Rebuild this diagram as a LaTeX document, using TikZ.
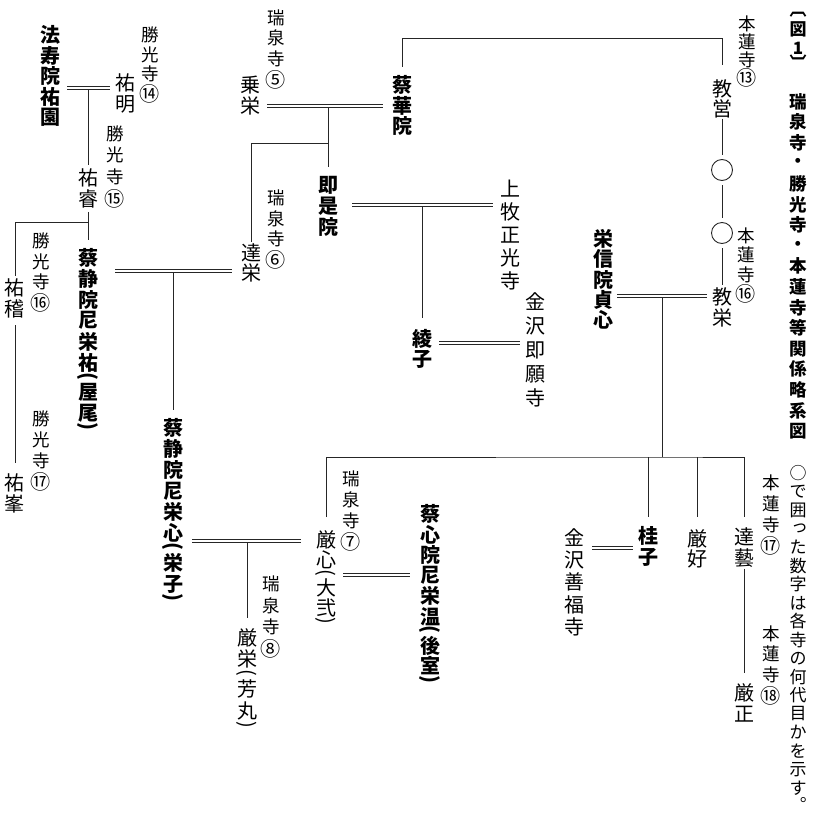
\documentclass[tikz,border=0pt]{standalone}
\usepackage{fontspec}
\setmainfont{Noto Sans CJK JP}
\usepackage{graphicx}
\usetikzlibrary{calc}

% Vertical text: \vt{pitch}{characters} stacks glyphs top to bottom.
\makeatletter
\newcommand\vt[2]{\vbox{\offinterlineskip\@tfor\vt@c:=#2\do{\vt@cell{#1}}}}
\newcommand\vt@box[2]{\vbox to #1{\vss\hbox to 1em{\hss#2\hss}\vss}}
\newcommand\vt@corner[3]{\vbox to #1{\kern#3\hbox to 1em{\kern#2\vt@c\hss}\vss}}
\def\vt@po{（}\def\vt@pc{）}\def\vt@bo{︹}\def\vt@bc{︺}\def\vt@stop{。}\def\vt@tsu{っ}
\newcommand\vt@cell[1]{%
  \ifx\vt@c\vt@po \vt@box{.4\dimexpr#1\relax}{\rotatebox[origin=c]{-90}{(}}\else
  \ifx\vt@c\vt@pc \vt@box{.4\dimexpr#1\relax}{\rotatebox[origin=c]{-90}{)}}\else
  \ifx\vt@c\vt@bo \vt@box{.5\dimexpr#1\relax}{\vt@c}\else
  \ifx\vt@c\vt@bc \vt@box{.5\dimexpr#1\relax}{\vt@c}\else
  \ifx\vt@c\vt@stop
    \vbox to .5\dimexpr#1\relax{\hbox to 1em{\hss\rotatebox[origin=c]{180}{。}\hss}\vss}\else
  \ifx\vt@c\vt@tsu \vt@corner{#1}{.1em}{.22em}\else
  \vt@box{#1}{\vt@c}\fi\fi\fi\fi\fi\fi}
\makeatother
% circled generation numbers, set a little larger
\newcommand\cn[1]{\scalebox{1.15}{#1}}

\begin{document}
\begin{tikzpicture}[x=1pt,y=-1pt,
  vtx/.style={inner sep=0pt, outer sep=0pt, anchor=north, text=black},
  nm/.style={vtx, font=\fontsize{20}{20}\selectfont},
  bn/.style={vtx, font=\fontsize{20}{20}\selectfont\bfseries},
  lb/.style={vtx, font=\fontsize{17.5}{18}\selectfont},
  ln/.style={draw=black!85, line width=0.9pt},
  dl/.style={draw=black!85, double=white, double distance=2.5pt, line width=0.8pt},
  ring/.style={circle, draw=black!85, line width=0.9pt, minimum size=21pt, inner sep=0pt}]
\useasboundingbox (0,0) rectangle (812,814);

% ---- title column
\node[vtx, font=\fontsize{17}{17}\selectfont\bfseries] (fig) at (798,9.7) {\vt{19.2pt}{︹図1︺}};
\node[vtx, font=\fontsize{17.5}{18}\selectfont\bfseries] (title) at (798,91.2) {\vt{20.6pt}{瑞泉寺・勝光寺・本蓮寺等関係略系図}};
\node[vtx, font=\fontsize{17}{17}\selectfont] (note) at (798,464.2) {\vt{18.5pt}{○で囲った数字は各寺の何代目かを示す。}};

% ---- Honrenji line
\node[lb] (hon13) at (747,14.4) {\vt{18.2pt}{本蓮寺{\cn⑬}}};
\node[nm] (kyoei) at (722,78.5) {\vt{20pt}{教営}};
\node[ring] (c1) at (722,170) {};
\node[ring] (c2) at (722,233) {};
\node[lb] (hon16) at (746,226.4) {\vt{19.2pt}{本蓮寺{\cn⑯}}};
\node[nm] (kyoei2) at (722,287) {\vt{20.5pt}{教栄}};
\node[bn] (eishin) at (603,229) {\vt{20.25pt}{栄信院貞心}};
\node[lb] (hon17) at (771,472) {\vt{21pt}{本蓮寺{\cn⑰}}};
\node[nm] (tatsugei) at (744,526.5) {\vt{21pt}{達藝}};
\node[lb] (hon18) at (771,623) {\vt{20.8pt}{本蓮寺{\cn⑱}}};
\node[nm] (gensho) at (744,682) {\vt{21.5pt}{厳正}};
\node[nm] (genkou) at (697,529) {\vt{20pt}{厳好}};
\node[bn] (keiko) at (648,525) {\vt{21.5pt}{桂子}};
\node[nm] (zenpuku) at (574,526) {\vt{22.5pt}{金沢善福寺}};

% ---- Zuisenji line
\node[lb] (zui5) at (276,7) {\vt{20.8pt}{瑞泉寺{\cn⑤}}};
\node[nm] (joei) at (250,74.5) {\vt{21pt}{乗栄}};
\node[bn] (saikain) at (402,74.75) {\vt{20.5pt}{蔡華院}};
\node[bn] (sokuzein) at (328,174.5) {\vt{21pt}{即是院}};
\node[lb] (zui6) at (276,188) {\vt{20.5pt}{瑞泉寺{\cn⑥}}};
\node[nm] (tatsuei) at (251,243.5) {\vt{19.5pt}{達栄}};
\node[nm] (kamimaki) at (510,177.5) {\vt{23pt}{上牧正光寺}};
\node[bn] (ayako) at (422,329) {\vt{20pt}{綾子}};
\node[nm] (sokugan) at (535,290) {\vt{24pt}{金沢即願寺}};
\node[lb] (zui7) at (351,468) {\vt{21pt}{瑞泉寺{\cn⑦}}};
\node[nm] (genshin) at (326,530) {\vt{20pt}{厳心（大弐）}};
\node[bn] (saishin) at (430,504) {\vt{20.5pt}{蔡心院尼栄温（後室）}};
\node[lb] (zui8) at (271,573) {\vt{21.7pt}{瑞泉寺{\cn⑧}}};
\node[nm] (genei) at (247,627) {\vt{21.5pt}{厳栄（芳丸）}};

% ---- Shokoji line
\node[bn] (houjuin) at (50,24.75) {\vt{20.5pt}{法寿院祐園}};
\node[lb] (sho14) at (150,25) {\vt{19.7pt}{勝光寺{\cn⑭}}};
\node[nm] (yumei) at (125,72.5) {\vt{21pt}{祐明}};
\node[lb] (sho15) at (115,122.6) {\vt{21.7pt}{勝光寺{\cn⑮}}};
\node[nm] (yuei) at (88,166.75) {\vt{21.5pt}{祐睿}};
\node[lb] (sho16) at (41,231) {\vt{20.5pt}{勝光寺{\cn⑯}}};
\node[nm] (yukei) at (15,277) {\vt{21.5pt}{祐稽}};
\node[lb] (sho17) at (41,408.6) {\vt{20.8pt}{勝光寺{\cn⑰}}};
\node[nm] (yuhou) at (15,472.5) {\vt{21pt}{祐峯}};
\node[bn] (saijo1) at (88,247) {\vt{21pt}{蔡静院尼栄祐（屋尾）}};
\node[bn] (saijo2) at (173,417) {\vt{21.15pt}{蔡静院尼栄心（栄子）}};

% ---- junctions
\coordinate (j0) at (722,38);
\coordinate (m1) at (662,296);
\coordinate (j1) at (662,457);
\coordinate (mk) at (612,548);
\coordinate (ms) at (376,575);
\coordinate (m4) at (247,541);
\coordinate (m5) at (328,106);
\coordinate (j5) at (328,143);
\coordinate (m6) at (422,205);
\coordinate (ma) at (480,343);
\coordinate (m7) at (88,88);
\coordinate (j8) at (88,222);
\coordinate (m9) at (173,271);

% ---- descent lines
\draw[ln] ([yshift=8pt]saikain.north) |- (j0) -- ([yshift=13.5pt]kyoei.north);
\draw[ln, shorten >=4.5pt] (kyoei.south) -- (c1.north);
\draw[ln, shorten <=4.5pt, shorten >=4.5pt] (c1.south) -- (c2.north);
\draw[ln, shorten <=4.5pt] (c2.south) -- ([yshift=2pt]kyoei2.north);
\draw[ln] (m1) -- (j1);
\draw[ln] ([yshift=13pt]genshin.north) |- (j1) -| ([yshift=9.5pt]tatsugei.north);
\draw[ln] (keiko.north |- j1) -- ([yshift=8pt]keiko.north);
\draw[ln] (genkou.north |- j1) -- ([yshift=12pt]genkou.north);
\draw[ln] (tatsugei.south) -- ([yshift=9pt]gensho.north);
\draw[ln] (m4) -- ([yshift=9pt]genei.north);
\draw[ln] (m5) -- ([yshift=7.5pt]sokuzein.north);
\draw[ln] (j5) -| ([yshift=1.5pt]tatsuei.north);
\draw[ln] (m6) -- ([yshift=11pt]ayako.north);
\draw[ln] (m7) -- ([yshift=2pt]yuei.north);
\draw[ln, shorten <=2pt] (yuei.south) -- ([yshift=7pt]saijo1.north);
\draw[ln] (j8) -| ([yshift=1pt]yukei.north);
\draw[ln, shorten <=5pt] (yukei.south) -- ([yshift=9.5pt]yuhou.north);
\draw[ln] (m9) -- ([yshift=7pt]saijo2.north);

% ---- marriage lines
\draw[dl, shorten <=4pt, shorten >=5pt] (eishin.east |- m1) -- (kyoei2.west |- m1);
\draw[dl, shorten <=8pt, shorten >=5pt] (zenpuku.east |- mk) -- (keiko.west |- mk);
\draw[dl, shorten <=7pt, shorten >=10pt] (genshin.east |- ms) -- (saishin.west |- ms);
\draw[dl, shorten <=9pt, shorten >=15pt] (saijo2.east |- m4) -- (genshin.west |- m4);
\draw[dl, shorten <=7pt, shorten >=9pt] (joei.east |- m5) -- (saikain.west |- m5);
\draw[dl, shorten <=14pt, shorten >=7pt] (sokuzein.east |- m6) -- (kamimaki.west |- m6);
\draw[dl, shorten <=7pt, shorten >=5pt] (ayako.east |- ma) -- (sokugan.west |- ma);
\draw[dl, shorten <=7pt, shorten >=5pt] (houjuin.east |- m7) -- (yumei.west |- m7);
\draw[dl, shorten <=17pt, shorten >=9pt] (saijo1.east |- m9) -- (tatsuei.west |- m9);
\end{tikzpicture}
\end{document}
